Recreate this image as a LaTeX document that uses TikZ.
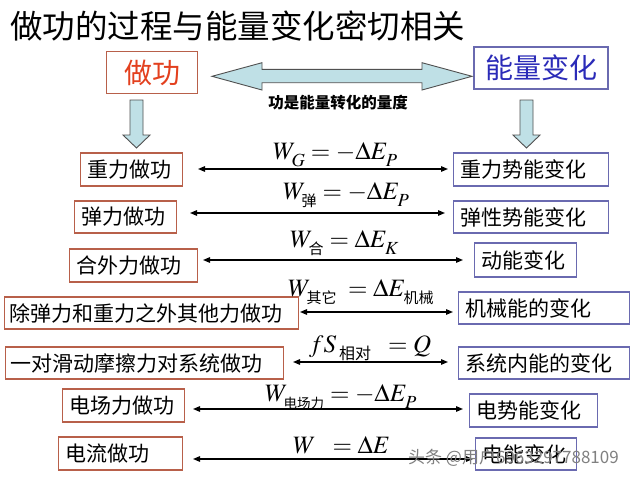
\documentclass[tikz,border=0pt]{standalone}
\usepackage{mathptmx}
\usepackage{fontspec}
\setmainfont{Noto Sans CJK SC}
\newfontfamily\cjk{Noto Sans CJK SC}
\usetikzlibrary{arrows.meta}
\definecolor{lbord}{HTML}{B8604A}
\definecolor{rbord}{HTML}{6A6AB0}
\definecolor{redtxt}{HTML}{E3401E}
\definecolor{bluetxt}{HTML}{2B2BB8}
\definecolor{arrfill}{HTML}{BFE0E6}
\definecolor{arrline}{HTML}{505050}
\newcommand\zs[2][14]{\mbox{\fontsize{#1}{#1}\selectfont\cjk #2}}
\newcommand\lsub[1]{_{\raisebox{-4pt}{$\scriptstyle #1$}}}
\newcommand\csub[2][14]{_{\raisebox{-4pt}{\zs[#1]{#2}}}}
\tikzset{
  box/.style={draw, line width=1.1pt, fill=white, inner xsep=7pt, inner ysep=0pt,
    anchor=west, align=left, font=\fontsize{21}{21}\selectfont},
  lbox/.style={box, draw=lbord},
  rbox/.style={box, draw=rbord},
  topbox/.style={draw, line width=1.1pt, inner sep=0pt, align=center,
    font=\fontsize{28}{28}\selectfont},
  formula/.style={anchor=base west, inner sep=0pt, font=\fontsize{25}{25}\selectfont},
  conn/.style={line width=1.3pt, {Triangle[length=7pt,width=5.5pt]}-{Triangle[length=7pt,width=5.5pt]}},
  blockarrow/.style={fill=arrfill, draw=arrline, line width=0.9pt, line join=miter},
}
\begin{document}
\begin{tikzpicture}[x=1pt,y=-1pt]
\useasboundingbox (0,0) rectangle (640,480);
\fill[white] (0,0) rectangle (640,480);
% title
\node[anchor=west, inner sep=0pt, font=\fontsize{32.5}{32.5}\selectfont] (title) at (10,26) {做功的过程与能量变化密切相关};
% top boxes
\node[topbox, draw=lbord, text=redtxt, minimum width=90.6pt, minimum height=41.6pt] (work) at (152,72.5) {做功};
\node[topbox, draw=rbord, text=bluetxt, minimum width=134pt, minimum height=42pt] (energy) at (541,68) {能量变化};
% big double arrow
\draw[blockarrow] (212,76.3) -- (262,62.7) -- (262,69.3) -- (422,69.3) -- (422,62.7) -- (472,76.3)
  -- (422,90) -- (422,82.7) -- (262,82.7) -- (262,90) -- cycle;
\node[inner sep=0pt, font=\fontsize{15.5}{15.5}\selectfont\bfseries] (measure) at (338,103) {功是能量转化的量度};
% down arrows
\draw[blockarrow] (130,100) -- (143,100) -- (143,135) -- (150,135) -- (136.5,148) -- (123,135) -- (130,135) -- cycle;
\draw[blockarrow] (520,100) -- (533,100) -- (533,135) -- (540,135) -- (526.5,148) -- (513,135) -- (520,135) -- cycle;
% rows: left boxes
\node[lbox, text width=88pt,  minimum height=33pt] (l1) at (80,169.5) {重力做功};
\node[lbox, text width=88pt,  minimum height=32pt] (l2) at (74,217) {弹力做功};
\node[lbox, text width=114pt, minimum height=33pt] (l3) at (69,265.5) {合外力做功};
\node[lbox, minimum height=32pt, inner xsep=5pt, text width=284pt] (l4) at (4,313) {除弹力和重力之外其他力做功};
\node[lbox, minimum height=32pt, inner xsep=5pt, text width=268pt] (l5) at (5,363) {一对滑动摩擦力对系统做功};
\node[lbox, text width=108pt, minimum height=33pt] (l6) at (62,405.5) {电场力做功};
\node[lbox, text width=110pt, minimum height=33pt] (l7) at (58,453.5) {电流做功};
% rows: right boxes
\node[rbox, text width=141pt, minimum height=33pt] (r1) at (453,169.5) {重力势能变化};
\node[rbox, text width=141pt, minimum height=32pt] (r2) at (453,217) {弹性势能变化};
\node[rbox, text width=88pt,  minimum height=34pt] (r3) at (474,260) {动能变化};
\node[rbox, text width=157pt, minimum height=32pt] (r4) at (458,308) {机械能的变化};
\node[rbox, text width=157pt, minimum height=32pt] (r5) at (458,363) {系统内能的变化};
\node[rbox, text width=114pt, minimum height=33pt] (r6) at (469,410.5) {电势能变化};
\node[rbox, text width=87pt,  minimum height=32pt] (r7) at (475,454) {电能变化};
% connector end points
\coordinate (a1) at (198,169); \coordinate (b1) at (448,169);
\coordinate (a2) at (190,213); \coordinate (b2) at (445,213);
\coordinate (a3) at (203,260); \coordinate (b3) at (463,260);
\coordinate (a4) at (300,312); \coordinate (b4) at (453,312);
\coordinate (a5) at (293,362); \coordinate (b5) at (448,362);
\coordinate (a6) at (193,409); \coordinate (b6) at (463,409);
\coordinate (a7) at (193,459); \coordinate (b7) at (473,459);
\foreach \i in {1,...,7} { \draw[conn] (a\i) -- (b\i); }
% formulas
\node[formula] (f1) at (273,159) {$W\lsub{G} = -\Delta E\lsub{P}$};
\node[formula] (f2) at (283,199) {$W\csub[15]{弹} = -\Delta E\lsub{P}$};
\node[formula] (f3) at (290,247) {$W\csub[15]{合} = \Delta E\lsub{K}$};
\node[formula] (f4) at (288,296) {$W\csub[15]{其它} \;= \Delta E\csub[15]{机械}$};
\node[formula] (f5) at (309,352) {$fS\,\csub[16]{相对} \;\;= Q$};
\node[formula] (f6) at (265,401) {$W\csub[13.5]{电场力} = -\Delta E\lsub{P}$};
\node[formula] (f7) at (293,453) {$W\;\; = \Delta E$};
% watermark
\node[anchor=west, inner sep=0pt, text=gray, font=\fontsize{17}{17}\selectfont] (wm) at (408,458) {头条 @用户6963297788109};
\end{tikzpicture}
\end{document}
